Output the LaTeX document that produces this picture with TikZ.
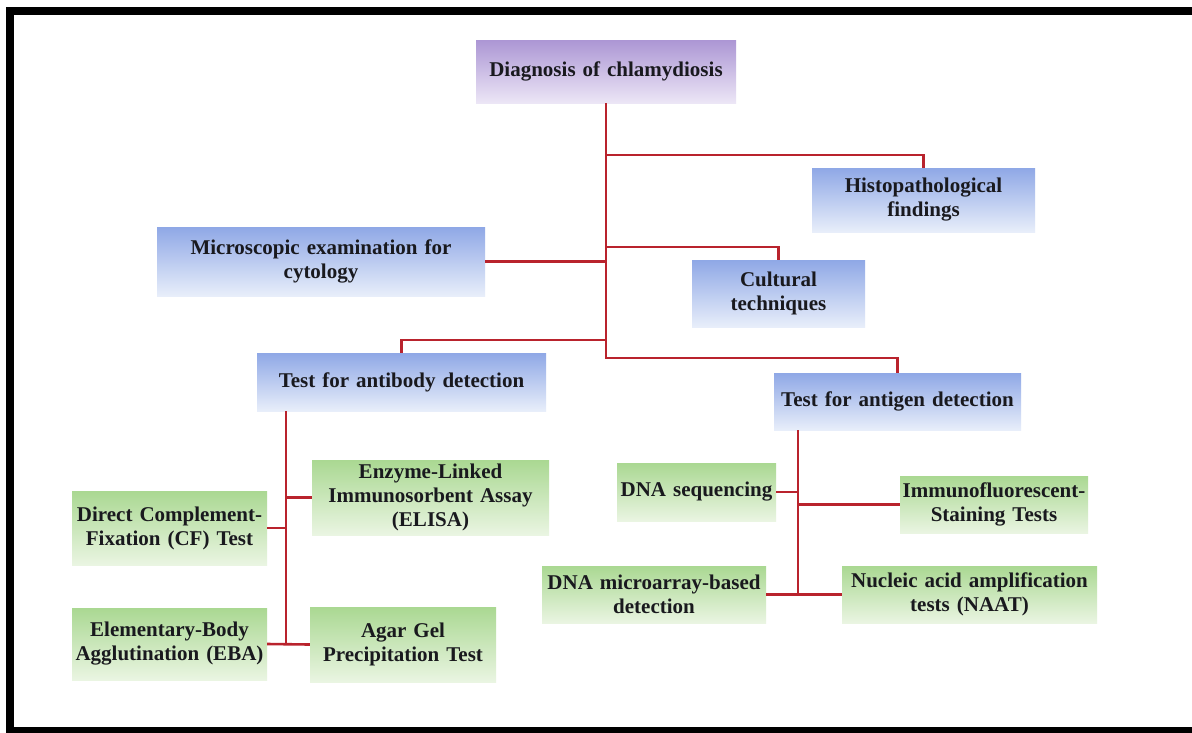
\documentclass[tikz,border=0pt]{standalone}
\usepackage{fontspec}
\setmainfont{Liberation Serif}
\definecolor{connred}{RGB}{185,35,45}
\definecolor{bluetop}{RGB}{143,168,230}
\definecolor{bluebot}{RGB}{232,238,250}
\definecolor{purtop}{RGB}{172,150,212}
\definecolor{purbot}{RGB}{236,230,246}
\definecolor{grntop}{RGB}{170,216,146}
\definecolor{grnbot}{RGB}{234,245,226}
\definecolor{txt}{RGB}{25,25,30}
\tikzset{
  basebox/.style={inner sep=0pt, align=center, text=txt,
    font=\bfseries\fontsize{21}{24}\selectfont},
  bluebox/.style={basebox, top color=bluetop, bottom color=bluebot},
  purplebox/.style={basebox, top color=purtop, bottom color=purbot},
  greenbox/.style={basebox, top color=grntop, bottom color=grnbot},
  conn/.style={draw=connred, line width=2.6pt},
}
\begin{document}
\begin{tikzpicture}[x=1pt,y=-1pt]
\useasboundingbox (0,0) rectangle (1192,732);
\clip (0,0) rectangle (1192,732);
\fill[white] (0,0) rectangle (1192,732);
\draw[black, line width=8pt] (10,11) rectangle (1210,731);

% nodes
\node[purplebox, minimum width=260pt, minimum height=63pt, text width=254pt] (diag) at (606,71.5) {Diagnosis of chlamydiosis};
\node[bluebox, minimum width=223pt, minimum height=64pt, text width=217pt] (histo) at (923.5,200) {Histopathological\\findings};
\node[bluebox, minimum width=173pt, minimum height=67pt, text width=167pt] (cult) at (778.5,293.5) {Cultural\\techniques};
\node[bluebox, minimum width=328pt, minimum height=69pt, text width=320pt] (micro) at (321,261.5) {Microscopic examination for\\cytology};
\node[bluebox, minimum width=289pt, minimum height=58pt, text width=283pt] (antib) at (401.5,382) {Test for antibody detection};
\node[bluebox, minimum width=247pt, minimum height=57pt, text width=243pt] (antig) at (897.5,401.5) {Test for antigen detection};

\node[greenbox, minimum width=195pt, minimum height=74pt, text width=192pt] (dcf) at (169.5,528) {Direct Complement-\\Fixation (CF) Test};
\node[greenbox, minimum width=237pt, minimum height=75pt, text width=232pt] (elisa) at (430.5,497.5) {Enzyme-Linked\\Immunosorbent Assay\\(ELISA)};
\node[greenbox, minimum width=195pt, minimum height=72pt, text width=192pt] (eba) at (169.5,644) {Elementary-Body\\Agglutination (EBA)};
\node[greenbox, minimum width=186pt, minimum height=75pt, text width=182pt] (agar) at (403,644.5) {Agar Gel\\Precipitation Test};

\node[greenbox, minimum width=159pt, minimum height=58pt, text width=156pt] (dnaseq) at (696.5,492) {DNA sequencing};
\node[greenbox, minimum width=188pt, minimum height=57pt, text width=186pt] (immuno) at (994,504.5) {Immunofluorescent-\\Staining Tests};
\node[greenbox, minimum width=224pt, minimum height=57pt, text width=220pt] (micarr) at (654,594.5) {DNA microarray-based\\detection};
\node[greenbox, minimum width=255pt, minimum height=57pt, text width=252pt] (naat) at (969.5,594.5) {Nucleic acid amplification\\tests (NAAT)};

% trunk coordinates
\coordinate (tend) at (606,358);
\coordinate (thisto) at (606,155);
\coordinate (tcult) at (606,247);
\coordinate (tab) at (606,340);
\coordinate (abx) at (286,0);
\coordinate (agx) at (798,0);

% main trunk
\draw[conn] (diag.south) -- (tend) -| (antig.north);
\draw[conn] (thisto) -| (histo.north);
\draw[conn] (tcult) -| (cult.north);
\draw[conn] (micro.east) -- (micro.east -| tend);
\draw[conn] (tab) -| (antib.north);

% antibody subtree
\draw[conn] (antib.south -| abx) -- (abx |- eba.east);
\draw[conn] (elisa.west) -- (elisa.west -| abx);
\draw[conn] (dcf.east) -- (dcf.east -| abx);
\draw[conn] (eba.east) -- (agar.west);

% antigen subtree
\draw[conn] (antig.south -| agx) -- (agx |- micarr.east);
\draw[conn] (dnaseq.east) -- (dnaseq.east -| agx);
\draw[conn] (immuno.west) -- (immuno.west -| agx);
\draw[conn] (micarr.east) -- (naat.west);
\end{tikzpicture}
\end{document}
